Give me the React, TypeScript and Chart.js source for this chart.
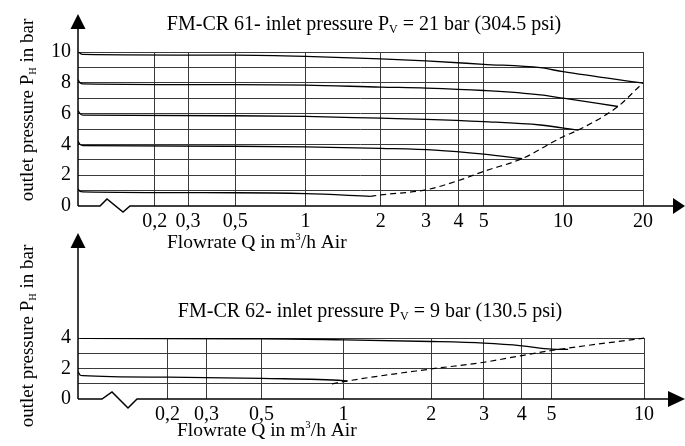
import React, { useEffect, useRef } from 'react';
import { Chart, registerables, LinearScale } from 'chart.js';

const FONT = '"Liberation Serif", "Times New Roman", serif';

// Flow axis of the datasheet: logarithmic in (Q + 0.1)
const X_SHIFT = 0.1;

class ShiftedLogScale extends LinearScale {
  static id = 'shiftedLog';
  _lims() {
    const a = Math.log10((this as any).min + X_SHIFT);
    const b = Math.log10((this as any).max + X_SHIFT);
    return [a, b];
  }
  getPixelForValue(value: any) {
    if (value === null || value === undefined || isNaN(value)) return NaN;
    const [a, b] = this._lims();
    return (this as any).getPixelForDecimal((Math.log10(value + X_SHIFT) - a) / (b - a));
  }
  getValueForPixel(pixel: number) {
    const [a, b] = this._lims();
    const d = (this as any).getDecimalForPixel(pixel);
    return Math.pow(10, a + d * (b - a)) - X_SHIFT;
  }
}

Chart.register(...registerables, ShiftedLogScale as any);

// ---------- data: FM-CR 61 (inlet 21 bar) ----------
const TOP_X_TICKS = [0.2, 0.3, 0.5, 1, 2, 3, 4, 5, 10, 20];
const TOP_Y_MAX = 10;

const top10Q = [0.055, 0.0577, 0.0618, 0.5, 1, 2, 3, 5, 8.2, 10, 20];
const top10P = [10.1, 9.92, 9.85, 9.8, 9.72, 9.55, 9.42, 9.2, 8.98, 8.72, 7.98];

const top8Q = [0.055, 0.0577, 0.0618, 0.5, 1, 2, 3, 5, 8.2, 10, 16.1];
const top8P = [8.2, 8.0, 7.93, 7.88, 7.85, 7.72, 7.66, 7.5, 7.22, 7.0, 6.46];

const top6Q = [0.055, 0.0577, 0.0618, 0.5, 1, 2, 3, 5, 8.2, 11.4];
const top6P = [6.2, 6.0, 5.9, 5.86, 5.82, 5.7, 5.63, 5.48, 5.26, 4.93];

const top4Q = [0.055, 0.0577, 0.0618, 0.5, 1, 2, 3.25, 5, 7.0];
const top4P = [4.2, 4.0, 3.92, 3.88, 3.84, 3.74, 3.63, 3.37, 3.08];

const top1Q = [0.055, 0.0577, 0.0618, 0.5, 1, 1.82];
const top1P = [1.1, 0.95, 0.92, 0.86, 0.8, 0.63];

const topLimitQ = [1.82, 2, 3, 4, 5, 7.0, 10, 11.4, 16.1, 20, 22.2];
const topLimitP = [0.63, 0.72, 1.05, 1.65, 2.25, 3.08, 4.5, 4.93, 6.46, 7.98, 8.55];

// ---------- data: FM-CR 62 (inlet 9 bar) ----------
const BOT_X_TICKS = [0.2, 0.3, 0.5, 1, 2, 3, 4, 5, 10];
const BOT_Y_MAX = 4;

const bot4Q = [0.055, 0.0573, 0.0608, 0.5, 1, 2, 3, 4, 5, 5.67];
const bot4P = [4.2, 4.02, 3.97, 3.95, 3.88, 3.77, 3.66, 3.49, 3.27, 3.25];

const bot15Q = [0.055, 0.0573, 0.0608, 0.2, 0.5, 1, 1.03];
const bot15P = [1.8, 1.58, 1.53, 1.43, 1.35, 1.2, 1.17];

const botLimitQ = [0.91, 1, 2, 3, 4, 5, 10];
const botLimitP = [0.99, 1.14, 1.97, 2.41, 2.85, 3.18, 3.99];

const X_MIN = 0.055;

// ---------- helpers ----------
type Seg = { t: string; scale?: number; dy?: number };

const pts = (q: number[], p: number[]) => q.map((x, i) => ({ x, y: p[i] }));

function richWidth(ctx: CanvasRenderingContext2D, segs: Seg[], size: number) {
  let w = 0;
  for (const s of segs) {
    ctx.font = `${size * (s.scale || 1)}px ${FONT}`;
    w += ctx.measureText(s.t).width;
  }
  return w;
}

function drawRich(ctx: CanvasRenderingContext2D, x: number, y: number, segs: Seg[], size: number) {
  let cx = x;
  ctx.textAlign = 'left';
  ctx.textBaseline = 'alphabetic';
  for (const s of segs) {
    ctx.font = `${size * (s.scale || 1)}px ${FONT}`;
    ctx.fillText(s.t, cx, y + (s.dy || 0));
    cx += ctx.measureText(s.t).width;
  }
}

const Y_TITLE: Seg[] = [
  { t: 'outlet pressure P' },
  { t: 'H', scale: 0.55, dy: 3 },
  { t: ' in bar' },
];
const X_TITLE: Seg[] = [
  { t: 'Flowrate Q in m' },
  { t: '3', scale: 0.55, dy: -8 },
  { t: '/h Air' },
];

type Decor = {
  title: Seg[];
  titleCX: number;
  titleY: number;
  xTitleX: number;
  xTitleY: number;
  yTitleCY: number;
  yTitleX: number;
  yTip: number;
  xTip: number;
  xBase: number;
  zig: number[];
  up: number;
  down: number;
};

function makeDecor(d: Decor) {
  return {
    id: 'decor',
    afterDraw(chart: any) {
      const ctx: CanvasRenderingContext2D = chart.ctx;
      const { left, bottom } = chart.chartArea;
      ctx.save();
      ctx.strokeStyle = '#000';
      ctx.fillStyle = '#000';
      ctx.lineWidth = 1.5;
      ctx.lineJoin = 'miter';
      // y axis
      ctx.beginPath();
      ctx.moveTo(left, bottom);
      ctx.lineTo(left, d.yTip + 12);
      ctx.stroke();
      // x axis with break
      ctx.beginPath();
      ctx.moveTo(left, bottom);
      ctx.lineTo(left + d.zig[0], bottom);
      ctx.lineTo(left + d.zig[1], bottom - d.up);
      ctx.lineTo(left + d.zig[2], bottom + d.down);
      ctx.lineTo(left + d.zig[3], bottom);
      ctx.lineTo(d.xBase + 2, bottom);
      ctx.stroke();
      // arrows
      ctx.beginPath();
      ctx.moveTo(left, d.yTip);
      ctx.lineTo(left - 7.5, d.yTip + 15);
      ctx.lineTo(left + 7.5, d.yTip + 15);
      ctx.closePath();
      ctx.fill();
      ctx.beginPath();
      ctx.moveTo(d.xTip, bottom);
      ctx.lineTo(d.xBase, bottom - 8);
      ctx.lineTo(d.xBase, bottom + 8);
      ctx.closePath();
      ctx.fill();
      // titles
      const tw = richWidth(ctx, d.title, 20);
      drawRich(ctx, d.titleCX - tw / 2, d.titleY, d.title, 20);
      drawRich(ctx, d.xTitleX, d.xTitleY, X_TITLE, 19.5);
      const yw = richWidth(ctx, Y_TITLE, 19);
      ctx.translate(d.yTitleX, d.yTitleCY + yw / 2);
      ctx.rotate(-Math.PI / 2);
      drawRich(ctx, 0, 0, Y_TITLE, 19);
      ctx.restore();
    },
  };
}

const solid = (q: number[], p: number[]) => ({
  data: pts(q, p),
  showLine: true,
  borderColor: '#000',
  borderWidth: 1.3,
  pointRadius: 0,
  cubicInterpolationMode: 'monotone' as const,
});

const dashed = (q: number[], p: number[]) => ({
  data: pts(q, p),
  showLine: true,
  borderColor: '#000',
  borderWidth: 1.2,
  borderDash: [6, 4],
  pointRadius: 0,
  cubicInterpolationMode: 'monotone' as const,
  clip: false as const,
});

function buildConfig(
  datasets: any[],
  xTicks: number[],
  xMax: number,
  yMax: number,
  padding: any,
  decor: Decor
): any {
  return {
    type: 'scatter',
    data: { datasets },
    plugins: [makeDecor(decor)],
    options: {
      responsive: false,
      animation: false,
      layout: { padding },
      plugins: { legend: { display: false }, tooltip: { enabled: false } },
      scales: {
        x: {
          type: 'shiftedLog',
          min: X_MIN,
          max: xMax,
          afterBuildTicks: (s: any) => {
            s.ticks = xTicks.map((v) => ({ value: v }));
          },
          afterFit: (s: any) => {
            s.height = 30;
          },
          border: { display: false },
          grid: { color: '#3a3a3a', lineWidth: 1, drawTicks: false },
          ticks: {
            autoSkip: false,
            maxRotation: 0,
            padding: 4,
            color: '#000',
            font: { family: FONT, size: 20 },
            callback: (v: number) => String(v).replace('.', ','),
          },
        },
        y: {
          type: 'linear',
          min: 0,
          max: yMax,
          afterFit: (s: any) => {
            s.width = 40;
          },
          border: { display: false },
          grid: {
            drawTicks: false,
            lineWidth: 1,
            color: (c: any) => (c.tick && c.tick.value === 0 ? 'rgba(0,0,0,0)' : '#3a3a3a'),
          },
          ticks: {
            stepSize: 1,
            autoSkip: false,
            padding: 7,
            color: '#000',
            font: { family: FONT, size: 20 },
            callback: (v: number) => (v % 2 === 0 ? String(v) : ''),
          },
        },
      },
    },
  };
}

function ChartCanvas({ config, width, height, top }: { config: () => any; width: number; height: number; top: number }) {
  const ref = useRef<HTMLCanvasElement | null>(null);
  useEffect(() => {
    if (!ref.current) return;
    const chart = new Chart(ref.current, config());
    return () => chart.destroy();
  }, []);
  return (
    <canvas
      ref={ref}
      width={width}
      height={height}
      style={{ position: 'absolute', left: 0, top, width, height }}
    />
  );
}

export default function App() {
  const topConfig = () =>
    buildConfig(
      [
        solid(top10Q, top10P),
        solid(top8Q, top8P),
        solid(top6Q, top6P),
        solid(top4Q, top4P),
        solid(top1Q, top1P),
        dashed(topLimitQ, topLimitP),
      ],
      TOP_X_TICKS,
      20,
      TOP_Y_MAX,
      { left: 38, right: 42, top: 52, bottom: 19 },
      {
        title: [
          { t: 'FM-CR 61- inlet pressure P' },
          { t: 'V', scale: 0.6, dy: 3 },
          { t: ' = 21 bar (304.5 psi)' },
        ],
        titleCX: 364,
        titleY: 30,
        xTitleX: 167,
        xTitleY: 248,
        yTitleCY: 110,
        yTitleX: 33,
        yTip: 14,
        xTip: 685,
        xBase: 673,
        zig: [22, 29, 45, 52],
        up: 7,
        down: 6,
      }
    );
  const botConfig = () =>
    buildConfig(
      [solid(bot4Q, bot4P), solid(bot15Q, bot15P), dashed(botLimitQ, botLimitP)],
      BOT_X_TICKS,
      10,
      BOT_Y_MAX,
      { left: 38, right: 41, top: 113, bottom: 17 },
      {
        title: [
          { t: 'FM-CR 62- inlet pressure P' },
          { t: 'V', scale: 0.6, dy: 3 },
          { t: ' = 9 bar (130.5 psi)' },
        ],
        titleCX: 370,
        titleY: 92,
        xTitleX: 177,
        xTitleY: 211,
        yTitleCY: 111,
        yTitleX: 33,
        yTip: 8,
        xTip: 685,
        xBase: 668,
        zig: [24, 34, 50, 59],
        up: 7,
        down: 9,
      }
    );
  return (
    <div style={{ position: 'fixed', left: 0, top: 0, width: 685, height: 446, background: '#fff' }}>
      <ChartCanvas config={topConfig} width={685} height={255} top={0} />
      <ChartCanvas config={botConfig} width={685} height={221} top={225} />
    </div>
  );
}
